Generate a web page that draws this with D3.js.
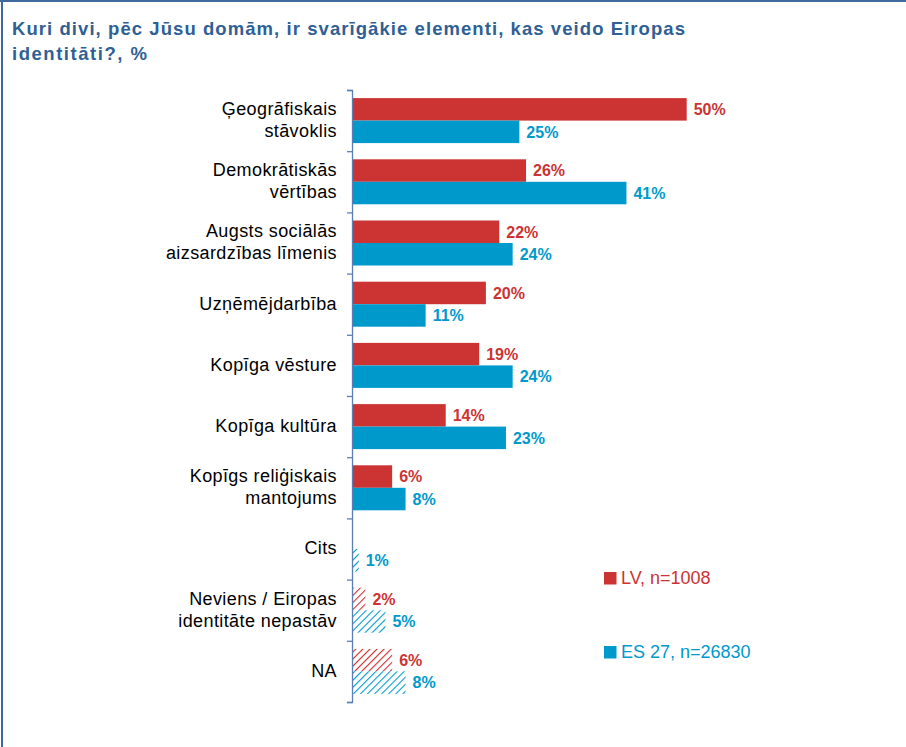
<!DOCTYPE html>
<html>
<head>
<meta charset="utf-8">
<script src="https://cdn.jsdelivr.net/npm/d3@7"></script>
<style>
  body { margin: 0; background: #fff; }
  svg { display: block; font-family: "Liberation Sans", Arial, sans-serif; }
</style>
</head>
<body>
<svg id="chart" width="906" height="747"></svg>
<script>
// --- Data ---
const categories = [
  ["Ģeogrāfiskais", "stāvoklis"],
  ["Demokrātiskās", "vērtības"],
  ["Augsts sociālās", "aizsardzības līmenis"],
  ["Uzņēmējdarbība"],
  ["Kopīga vēsture"],
  ["Kopīga kultūra"],
  ["Kopīgs reliģiskais", "mantojums"],
  ["Cits"],
  ["Neviens / Eiropas", "identitāte nepastāv"],
  ["NA"]
];
const lvValues = [50, 26, 22, 20, 19, 14, 6, 0, 2, 6];
const esValues = [25, 41, 24, 11, 24, 23, 8, 1, 5, 8];
const hatched = [false, false, false, false, false, false, false, true, true, true];
const seriesNames = ["LV, n=1008", "ES 27, n=26830"];
const colors = ["#CC3333", "#0099CC"];
const titleLines = [
  "Kuri divi, pēc Jūsu domām, ir svarīgākie elementi, kas veido Eiropas",
  "identitāti?, %"
];

const svg = d3.select("#chart");

// frame (top and left edge of the slide box)
svg.append("line").attr("x1", 0).attr("x2", 906).attr("y1", 1).attr("y2", 1)
  .attr("stroke", "#3F6A9E").attr("stroke-width", 2);
svg.append("line").attr("x1", 2).attr("x2", 2).attr("y1", 0).attr("y2", 747)
  .attr("stroke", "#3F6A9E").attr("stroke-width", 2);

// title
const titleW = [673, 135];
const title = svg.append("text")
  .attr("fill", "#2F5F95")
  .attr("font-weight", "bold")
  .attr("font-size", 18.5);
titleLines.forEach((t, k) => {
  title.append("tspan").attr("x", 12).attr("y", 35 + k * 25)
    .attr("textLength", titleW[k]).attr("lengthAdjust", "spacing")
    .text(t);
});

// hatch patterns
const defs = svg.append("defs");
colors.forEach((c, i) => {
  const p = defs.append("pattern")
    .attr("id", "hatch" + i)
    .attr("patternUnits", "userSpaceOnUse")
    .attr("width", 5).attr("height", 5)
    .attr("patternTransform", "rotate(45)");
  p.append("rect").attr("width", 5).attr("height", 5).attr("fill", "#fff");
  p.append("line").attr("x1", 0).attr("y1", 0).attr("x2", 0).attr("y2", 5)
    .attr("stroke", c).attr("stroke-width", 2.2);
});

// --- Scales ---
const idx = d3.range(categories.length);
const y = d3.scaleBand().domain(idx).range([90, 702]);
const ySub = d3.scaleBand().domain([0, 1]).range([0, y.bandwidth()])
  .paddingInner(0).paddingOuter(0.36);
const x = d3.scaleLinear().domain([0, 50]).range([352, 686.7]);

// --- Bars ---
const rows = idx.map(i => ({ i, vals: [lvValues[i], esValues[i]] }));
const g = svg.append("g");
rows.forEach(r => {
  r.vals.forEach((v, s) => {
    if (v <= 0) return;
    const y0 = y(r.i) + ySub(s);
    g.append("rect")
      .attr("x", x(0)).attr("y", y0)
      .attr("width", x(v) - x(0))
      .attr("height", ySub.bandwidth())
      .attr("fill", hatched[r.i] ? `url(#hatch${s})` : colors[s]);
    g.append("text")
      .attr("x", x(v) + 7)
      .attr("y", y0 + ySub.bandwidth() / 2)
      .attr("dy", "0.36em")
      .attr("fill", colors[s])
      .attr("font-weight", "bold")
      .attr("font-size", 16)
      .text(v + "%");
  });
});

// --- Axis (ticks at category boundaries) ---
const yTicks = d3.scaleLinear().domain([0, categories.length]).range([90, 702]);
const axis = svg.append("g")
  .attr("transform", `translate(${x(0)},0)`)
  .call(d3.axisLeft(yTicks).tickValues(d3.range(categories.length + 1))
    .tickFormat("").tickSize(5).tickSizeOuter(5));
axis.selectAll(".domain").attr("stroke", "#5B7FB5").attr("stroke-width", 1.3);
axis.selectAll(".tick line").attr("stroke", "#5B7FB5").attr("stroke-width", 1.3);

// --- Category labels ---
const lineH = 22;
idx.forEach(i => {
  const lines = categories[i];
  const cy = y(i) + y.bandwidth() / 2;
  const t = svg.append("text")
    .attr("text-anchor", "end")
    .attr("fill", "#000")
    .attr("font-size", 18)
    .attr("letter-spacing", 0.4);
  lines.forEach((ln, k) => {
    t.append("tspan")
      .attr("x", 337)
      .attr("y", cy - 1 + (k - (lines.length - 1) / 2) * lineH)
      .attr("dy", "0.35em")
      .text(ln);
  });
});

// --- Legend ---
const legendY = [578, 652];
seriesNames.forEach((name, s) => {
  svg.append("rect")
    .attr("x", 604).attr("y", legendY[s] - 6)
    .attr("width", 12.5).attr("height", 12.5)
    .attr("fill", colors[s]);
  svg.append("text")
    .attr("x", 621).attr("y", legendY[s])
    .attr("dy", "0.36em")
    .attr("fill", colors[s])
    .attr("font-size", 18)
    .text(name);
});
</script>
</body>
</html>
